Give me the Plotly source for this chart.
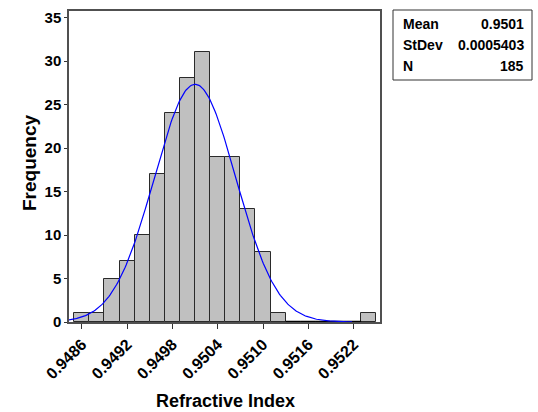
import numpy as np
import plotly.graph_objects as go

# Histogram of refractive index measurements (bin centres, width 0.0002)
bin_centers = [0.9486, 0.9488, 0.9490, 0.9492, 0.9494, 0.9496, 0.9498, 0.9500,
               0.9502, 0.9504, 0.9506, 0.9508, 0.9510, 0.9512, 0.9514, 0.9516,
               0.9518, 0.9520, 0.9522, 0.9524]
counts = [1, 1, 5, 7, 10, 17, 24, 28, 31, 19, 19, 13, 8, 1, 0, 0, 0, 0, 0, 1]
bin_width = 0.0002

# Summary statistics for the fitted normal curve
stat_mean = 0.9501
stat_sd = 0.0005403
stat_n = 185
stat_labels = ["Mean", "StDev", "N"]
stat_values = ["0.9501", "0.0005403", "185"]

x_ticks = [0.9486, 0.9492, 0.9498, 0.9504, 0.9510, 0.9516, 0.9522]
y_ticks = [0, 5, 10, 15, 20, 25, 30, 35]
x_range = [0.94843, 0.95255]
y_range = [0, 35.75]

W, H = 538, 412
ML, MR, MT, MB = 69, 158, 11, 90
PW, PH = W - ML - MR, H - MT - MB


def px_x(px):
    return (px - ML) / PW


def px_y(py):
    return (H - MB - py) / PH


FONT = "Arial, Liberation Sans, sans-serif"

fig = go.Figure()

fig.add_trace(go.Bar(
    x=bin_centers, y=counts, width=bin_width,
    marker=dict(color="#C0C0C0", line=dict(color="#2a2a2a", width=1)),
    hoverinfo="x+y",
))

# outline of empty bins along the baseline
zx, zy = [], []
for c, n in zip(bin_centers, counts):
    if n == 0:
        zx += [c - bin_width / 2, c + bin_width / 2, None]
        zy += [0, 0, None]
fig.add_trace(go.Scatter(x=zx, y=zy, mode="lines",
                         line=dict(color="black", width=2.5),
                         hoverinfo="skip", cliponaxis=False))

# fitted normal density scaled to counts
xs = np.linspace(stat_mean - 4 * stat_sd, stat_mean + 3.85 * stat_sd, 300)
ys = stat_n * bin_width * np.exp(-0.5 * ((xs - stat_mean) / stat_sd) ** 2) / (stat_sd * np.sqrt(2 * np.pi))
fig.add_trace(go.Scatter(x=xs, y=ys, mode="lines",
                         line=dict(color="#0000FF", width=1.2),
                         hoverinfo="skip"))

fig.update_layout(
    width=W, height=H,
    margin=dict(l=ML, r=MR, t=MT, b=MB, autoexpand=False),
    paper_bgcolor="white", plot_bgcolor="white",
    showlegend=False, bargap=0,
    font=dict(family=FONT, color="black"),
)

fig.update_xaxes(
    range=x_range, tickvals=x_ticks, ticktext=[f"{v:.4f}" for v in x_ticks],
    tickangle=-45, ticks="outside", ticklen=5, tickcolor="#333",
    tickfont=dict(size=16, family=FONT, weight="bold"),
    showline=True, linecolor="#505050", linewidth=1.5, mirror=True,
    showgrid=False, zeroline=False,
)
fig.update_yaxes(
    range=y_range, tickvals=y_ticks, ticks="outside", ticklen=3, tickcolor="#333",
    tickfont=dict(size=15, family=FONT, weight="bold"),
    showline=True, linecolor="#505050", linewidth=1.5, mirror=True,
    showgrid=False, zeroline=False,
)

ann = [
    dict(text="<b>Frequency</b>", x=px_x(29), y=px_y(163), xref="paper", yref="paper",
         textangle=-90, showarrow=False, font=dict(size=19, family=FONT),
         xanchor="center", yanchor="middle"),
    dict(text="<b>Refractive Index</b>", x=px_x(225), y=px_y(401), xref="paper", yref="paper",
         showarrow=False, font=dict(size=18, family=FONT),
         xanchor="center", yanchor="middle"),
]
row_y = [24, 45, 66]
for lab, val, ry in zip(stat_labels, stat_values, row_y):
    ann.append(dict(text=f"<b>{lab}</b>", x=px_x(401), y=px_y(ry), xref="paper", yref="paper",
                    showarrow=False, font=dict(size=14, family=FONT),
                    xanchor="left", yanchor="middle"))
    ann.append(dict(text=f"<b>{val}</b>", x=px_x(526), y=px_y(ry), xref="paper", yref="paper",
                    showarrow=False, font=dict(size=14, family=FONT),
                    xanchor="right", yanchor="middle"))
fig.update_layout(annotations=ann)

fig.add_shape(type="rect", xref="paper", yref="paper",
              x0=px_x(393), x1=px_x(532), y0=px_y(80), y1=px_y(10),
              line=dict(color="#333", width=1), fillcolor="rgba(0,0,0,0)")

fig.write_html("out.html")
